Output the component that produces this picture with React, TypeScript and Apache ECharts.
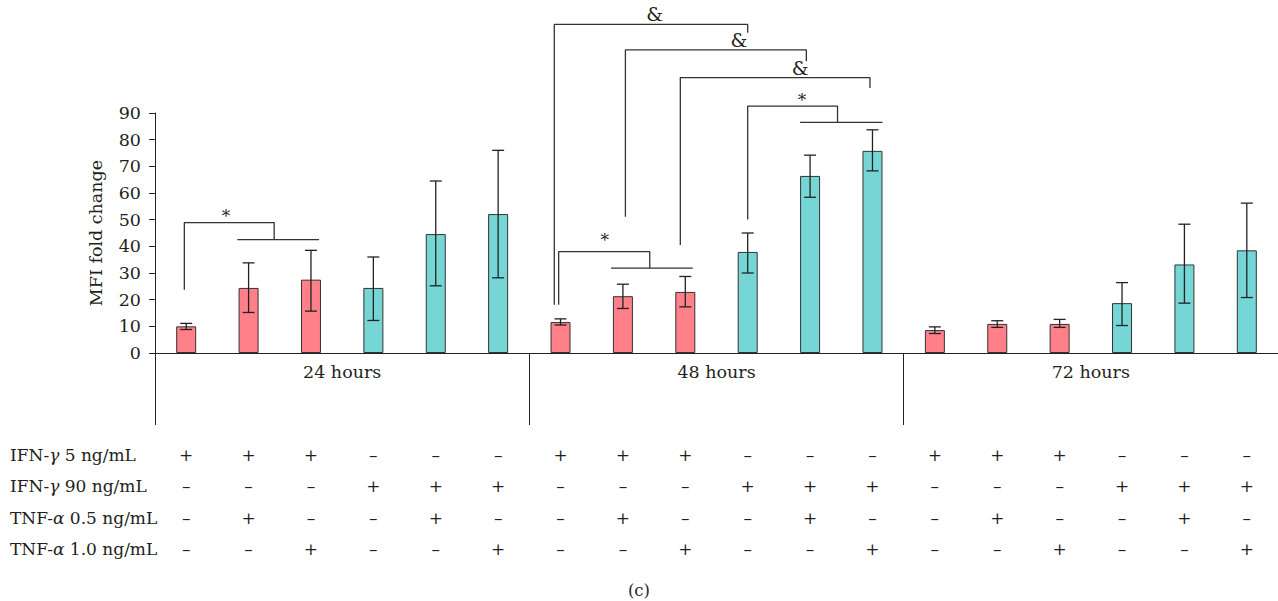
import React, { useEffect, useRef } from "react";
import * as echarts from "echarts";

const groups = ["24 hours", "48 hours", "72 hours"];
const barNames = ["1","2","3","4","5","6","7","8","9","10","11","12","13","14","15","16","17","18"];
const barValues = [10.0, 24.4, 27.5, 24.4, 44.6, 52.1, 11.6, 21.3, 22.9, 37.9, 66.4, 75.8, 8.6, 10.9, 10.9, 18.7, 33.2, 38.5];
const errLow = [8.8, 15.2, 15.7, 12.2, 25.2, 28.2, 10.5, 16.7, 17.3, 30.0, 58.4, 68.3, 7.3, 9.6, 9.6, 10.3, 18.7, 20.8];
const errHigh = [11.1, 33.8, 38.5, 36.0, 64.5, 76.0, 12.8, 25.8, 28.7, 45.0, 74.2, 83.7, 9.8, 12.1, 12.6, 26.4, 48.3, 56.2];

const rowLabels = [
  "IFN-{i|γ} 5 ng/mL",
  "IFN-{i|γ} 90 ng/mL",
  "TNF-{i|α} 0.5 ng/mL",
  "TNF-{i|α} 1.0 ng/mL",
];
const rowIfn5 = ["+","+","+","–","–","–","+","+","+","–","–","–","+","+","+","–","–","–"];
const rowIfn90 = ["–","–","–","+","+","+","–","–","–","+","+","+","–","–","–","+","+","+"];
const rowTnf05 = ["–","+","–","–","+","–","–","+","–","–","+","–","–","+","–","–","+","–"];
const rowTnf10 = ["–","–","+","–","–","+","–","–","+","–","–","+","–","–","+","–","–","+"];
const signRows = [rowIfn5, rowIfn90, rowTnf05, rowTnf10];

// significance brackets, in (bar slot units, y value)
const brackets = [
  [[0.47, 23.7], [0.47, 48.9], [1.91, 48.9], [1.91, 42.5]],
  [[1.32, 42.5], [2.63, 42.5]],
  [[6.40, 18.1], [6.40, 123.2], [9.50, 123.2], [9.50, 120.1]],
  [[7.54, 51.1], [7.54, 113.7], [10.44, 113.7], [10.44, 109.4]],
  [[8.42, 40.5], [8.42, 103.3], [11.46, 103.3], [11.46, 99.4]],
  [[9.50, 50.1], [9.50, 92.6], [10.94, 92.6], [10.94, 86.5]],
  [[10.34, 86.5], [11.66, 86.5]],
  [[6.47, 18.1], [6.47, 38.0], [7.93, 38.0], [7.93, 31.8]],
  [[7.31, 31.8], [8.62, 31.8]],
];
const markTexts = ["*", "&", "&", "&", "*", "*"];
const markPos = [[1.14, 51.5], [8.01, 127.0], [9.36, 117.3], [10.34, 106.8], [10.37, 95.0], [7.21, 42.3]];

const FONT = "DejaVu Serif";
const TXT = "#231F20";
const PINK = "#FF8089";
const TEAL = "#76D6D6";

export default function App() {
  const ref = useRef<HTMLDivElement>(null);
  useEffect(() => {
    document.body.style.margin = "0";
    const chart = echarts.init(ref.current!, null, { renderer: "svg" });
    const rowOffsets = [102, 133, 165, 196];
    const signAxes = signRows.map((row, k) => ({
      type: "category",
      gridIndex: 0,
      position: "bottom",
      offset: rowOffsets[k],
      data: row,
      axisLine: { show: false },
      axisTick: { show: false },
      axisLabel: { interval: 0, margin: 0, verticalAlign: "middle", fontFamily: FONT, fontSize: 17, color: TXT },
      name: rowLabels[k],
      nameLocation: "start",
      nameGap: 145,
      nameTextStyle: {
        align: "left", verticalAlign: "middle", fontFamily: FONT, fontSize: 17, color: TXT,
        rich: { i: { fontStyle: "italic", fontFamily: FONT, fontSize: 17, color: TXT } },
      },
    }));
    const option: any = {
      animation: false,
      title: { text: "(c)", left: "center", top: 577, textStyle: { fontFamily: FONT, fontSize: 16.5, fontWeight: "normal", color: TXT } },
      grid: { left: 155, top: 113, width: 1128, height: 240 },
      xAxis: [
        {
          type: "category", data: groups, position: "bottom",
          axisLine: { show: true, lineStyle: { color: "#222", width: 1 } },
          axisTick: { show: true, length: 72, inside: false, lineStyle: { color: "#222", width: 1 } },
          axisLabel: { margin: 10, fontFamily: FONT, fontSize: 17.5, color: TXT },
        },
        { type: "category", data: barNames, show: false },
        { type: "value", min: 0, max: 18, show: false },
        ...signAxes,
      ],
      yAxis: {
        type: "value", min: 0, max: 90, interval: 10,
        name: "MFI fold change", nameLocation: "middle", nameGap: 50,
        nameTextStyle: { fontFamily: FONT, fontSize: 17.5, color: TXT },
        axisLine: { show: true, lineStyle: { color: "#222", width: 1 } },
        axisTick: { show: true, length: 6, lineStyle: { color: "#222" } },
        axisLabel: { margin: 14, fontFamily: FONT, fontSize: 17.5, color: TXT },
        splitLine: { show: false },
      },
      series: [
        {
          type: "bar", xAxisIndex: 1, barWidth: 20,
          data: barValues.map((v, i) => ({
            value: v,
            itemStyle: { color: rowIfn90[i] === "+" ? TEAL : PINK, borderColor: "#333", borderWidth: 1 },
          })),
        },
        {
          type: "custom", xAxisIndex: 1,
          data: barValues.map((_, i) => [i, errLow[i], errHigh[i]]),
          renderItem: (params: any, api: any) => {
            const x = api.value(0);
            const lo = api.coord([x, api.value(1)]);
            const hi = api.coord([x, api.value(2)]);
            const hw = 6;
            const st = { stroke: "#222", lineWidth: 1.3 };
            return {
              type: "group",
              children: [
                { type: "line", shape: { x1: lo[0], y1: lo[1], x2: hi[0], y2: hi[1] }, style: st },
                { type: "line", shape: { x1: lo[0] - hw, y1: lo[1], x2: lo[0] + hw, y2: lo[1] }, style: st },
                { type: "line", shape: { x1: hi[0] - hw, y1: hi[1], x2: hi[0] + hw, y2: hi[1] }, style: st },
              ],
            };
          },
          z: 5,
        },
        ...brackets.map((b) => ({
          type: "line", xAxisIndex: 2, data: b, clip: false, symbol: "none",
          lineStyle: { color: "#333", width: 1.3 }, silent: true, z: 4,
        })),
        {
          type: "custom", xAxisIndex: 2, clip: false, silent: true,
          data: markPos.map((p, i) => [p[0], p[1], i]),
          renderItem: (params: any, api: any) => {
            const pt = api.coord([api.value(0), api.value(1)]);
            const t = markTexts[api.value(2)];
            return {
              type: "text", x: pt[0], y: pt[1],
              style: {
                text: t, fill: TXT, align: "center", verticalAlign: "middle",
                font: `${t === "&" ? 19 : 17}px "${FONT}"`,
              },
            };
          },
          z: 6,
        },
      ],
    };
    chart.setOption(option);
    return () => chart.dispose();
  }, []);
  return <div ref={ref} style={{ width: 1278, height: 601, position: "absolute", left: 0, top: 0 }} />;
}
